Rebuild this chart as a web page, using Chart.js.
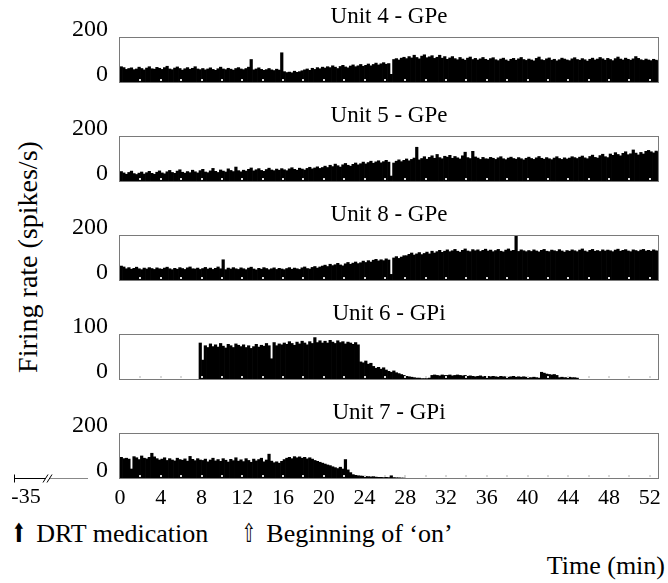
<!DOCTYPE html>
<html>
<head>
<meta charset="utf-8">
<script src="https://cdn.jsdelivr.net/npm/chart.js@4.4.1/dist/chart.umd.min.js"></script>
<style>
  html, body { margin: 0; padding: 0; background: #fff; }
  body { width: 668px; height: 583px; overflow: hidden; position: relative;
         font-family: 'Liberation Serif', 'Times New Roman', serif; color: #000; }
  canvas { position: absolute; left: 0; }
  .txt { position: absolute; white-space: nowrap; line-height: 1; }
  .arr { font-family: 'DejaVu Sans', sans-serif; display: inline-block; transform: scaleX(0.65); }
  #ylab { font-size: 28px; left: 28px; top: 257px; transform: translate(-50%, -50%) rotate(-90deg); }
  #leg1 { font-size: 26px; left: 8px; top: 520px; }
  #leg2 { font-size: 26px; left: 238px; top: 520px; }
  #xlab { font-size: 26px; right: 3px; top: 553px; }
</style>
</head>
<body>
<div id="ylab" class="txt">Firing rate (spikes/s)</div>
<div id="leg1" class="txt"><span class="arr">⬆</span> DRT medication</div>
<div id="leg2" class="txt"><span class="arr">⇧</span> Beginning of ‘on’</div>
<div id="xlab" class="txt">Time (min)</div>

<script>
// firing rate histograms, one value per 0.25 min bin (spikes/s)
const BIN_MIN = 0.25;

const unit4 = [
  68,64,56,60,63,55,58,66,60,54,62,68,59,57,65,61,        // 0-4
  56,64,70,58,55,62,67,60,53,59,64,57,61,68,58,55,        // 4-8
  60,54,58,63,56,52,59,66,58,55,61,57,53,60,64,58,        // 8-12
  55,60,66,100,54,58,63,56,52,55,60,54,51,57,53,130,      // 12-16
  46,42,44,41,48,43,46,50,54,58,52,61,56,64,59,66,        // 16-20
  62,68,64,72,66,60,69,74,67,63,71,76,68,72,78,70,        // 20-24
  74,80,72,78,84,76,81,86,79,82,34,100,104,98,106,110,    // 24-28
  104,113,107,119,109,103,115,121,108,112,117,105,110,119,106,113, // 28-32
  101,107,113,104,99,109,102,97,106,111,100,105,98,103,109,101,    // 32-36
  97,104,108,99,95,102,106,98,93,101,105,97,103,109,100,96,        // 36-40
  102,98,94,105,111,99,96,103,107,97,101,94,99,106,102,98,         // 40-44
  95,103,108,100,97,104,99,93,101,106,98,102,109,103,97,105,       // 44-48
  100,95,104,111,102,98,106,101,97,103,113,105,99,96,102,98,       // 48-52
  95,101,97,93                                                     // 52-53
];

const unit5 = [
  42,36,30,38,44,33,29,35,40,31,37,43,34,30,39,45,
  36,32,41,47,38,34,44,50,39,35,42,37,48,41,36,46,
  52,40,37,45,56,43,38,49,44,40,54,47,42,62,46,41,
  48,44,52,58,45,50,55,47,43,51,57,49,46,53,48,55,
  50,46,54,59,52,48,57,53,49,56,61,54,58,63,56,60,
  66,60,70,64,75,68,62,72,78,70,66,74,80,72,77,84,
  76,82,88,79,85,90,81,86,92,84,22,80,88,94,86,92,
  98,90,96,102,150,94,100,108,97,105,112,101,118,104,99,110,
  106,114,101,109,103,98,112,128,104,100,132,107,102,96,105,99,
  98,105,101,96,103,108,99,95,102,106,100,97,104,99,94,101,
  106,100,96,103,109,101,97,104,99,95,102,108,100,96,103,98,
  102,108,104,100,106,111,103,99,109,115,105,102,113,119,108,104,
  120,114,126,118,112,123,130,117,121,138,124,116,127,120,132,136,
  130,125,133,128
];

const unit8 = [
  62,58,50,55,48,52,57,50,46,53,49,55,51,47,54,50,
  48,53,57,50,46,52,48,55,51,47,54,58,50,49,53,47,
  51,56,49,53,47,52,58,50,90,46,53,49,55,50,47,54,
  50,46,53,57,49,45,52,48,55,51,46,50,54,47,52,49,
  46,51,55,48,53,50,47,54,58,51,49,56,60,53,58,62,
  66,60,70,64,68,74,67,63,72,78,70,75,80,73,77,84,
  78,86,80,88,92,85,90,86,94,89,25,98,104,96,102,108,
  108,114,120,111,116,122,113,118,124,116,128,120,126,132,123,128,
  134,126,130,136,128,124,132,138,129,126,135,130,134,127,132,137,
  129,133,126,131,136,128,125,133,138,129,132,197,127,134,130,126,
  131,127,134,129,125,132,136,128,126,133,130,127,135,129,124,131,
  128,134,130,126,133,138,129,125,132,136,128,131,127,134,129,133,
  130,126,133,137,128,132,135,129,126,134,131,127,133,136,129,132,
  128,134,130,127
];

// unit 6 recorded from 7.75 min to 45 min
const unit6 = [
  80,
  42,74,70,78,72,76,71,79,73,69,77,74,70,78,75,72,        // 8-12
  76,70,74,68,72,77,71,75,73,79,74,45,81,74,78,76,        // 12-16
  80,77,83,79,75,82,78,84,80,76,83,79,92,81,85,80,        // 16-20
  84,80,86,82,79,85,81,83,78,82,80,77,81,76,38,36,        // 20-24
  40,33,35,28,24,26,22,25,20,17,15,18,14,12,10,8,         // 24-28
  6,5,4,3,2,2,1,1,1,2,8,9,8,7,9,8,                        // 28-32
  8,9,7,8,9,8,7,8,6,7,6,5,6,7,5,6,                        // 32-36
  6,5,6,5,4,6,5,5,4,5,6,4,5,4,5,4,                        // 36-40
  3,3,4,3,2,15,13,11,10,9,10,8,3,4,3,3,                   // 40-44
  4,3,3,2                                                 // 44-45
];

// unit 7 recorded from 0 to 28 min
const unit7 = [
  92,86,88,84,40,95,90,82,98,88,85,92,110,94,86,80,
  84,90,78,86,80,76,88,82,79,85,75,96,83,77,86,80,
  78,84,72,80,88,76,82,74,86,79,71,83,77,90,75,81,
  73,86,78,70,84,76,82,88,72,80,106,75,68,72,66,74,
  82,88,92,86,95,90,94,88,92,85,90,84,78,74,70,66,
  62,58,55,50,46,42,48,40,82,36,24,15,12,10,9,8,
  7,6,5,6,4,3,3,2,3,2,10,2,1,1,0,0
];

const panelTitles = ['Unit 4 - GPe', 'Unit 5 - GPe', 'Unit 8 - GPe', 'Unit 6 - GPi', 'Unit 7 - GPi'];
const panelSeries = [unit4, unit5, unit8, unit6, unit7];
const seriesStart = [0, 0, 0, 7.75, 0];
const yMax = [200, 200, 200, 100, 200];
const xTickValues = [0, 4, 8, 12, 16, 20, 24, 28, 32, 36, 40, 44, 48, 52];
const xMin = -0.1, xMax = 52.9;
const brokenTickLabel = '-35';

// layout in page pixels
const panelTop = [37, 136, 235, 334, 433];
const PANEL_H = 45;
const AREA_LEFT = 119, AREA_RIGHT = 659, CANVAS_W = 778;
const SERIF = "'Liberation Serif', 'Times New Roman', serif";

// box round each panel plus the little tick marks along the base
const panelFrame = {
  id: 'panelFrame',
  afterDatasetsDraw(chart) {
    const { ctx, chartArea: a, scales: { x } } = chart;
    ctx.save();
    ctx.fillStyle = '#d8d8d8';
    for (let t = 2; t <= 52; t += 2) {
      const px = Math.round(x.getPixelForValue(t));
      ctx.fillRect(px - 1, a.bottom - 3, 2, 2);
    }
    ctx.strokeStyle = '#7a7a7a';
    ctx.lineWidth = 1;
    ctx.strokeRect(Math.round(a.left) + 0.5, Math.round(a.top) + 0.5,
                   Math.round(a.width) - 1, Math.round(a.height));
    ctx.restore();
  }
};

// the -35 stub with its break marks, left of the bottom panel
const brokenAxis = {
  id: 'brokenAxis',
  afterDraw(chart) {
    const { ctx, chartArea: a } = chart;
    const y = Math.round(a.bottom) + 0.5;
    ctx.save();
    ctx.lineWidth = 1;
    ctx.strokeStyle = '#000';
    ctx.beginPath();
    ctx.moveTo(14.5, y - 4); ctx.lineTo(14.5, y + 4);
    ctx.moveTo(14, y); ctx.lineTo(46, y);
    ctx.moveTo(43, y + 4); ctx.lineTo(48, y - 4);
    ctx.moveTo(47, y + 4); ctx.lineTo(52, y - 4);
    ctx.stroke();
    ctx.strokeStyle = '#888';
    ctx.beginPath();
    ctx.moveTo(50, y); ctx.lineTo(88, y);
    ctx.stroke();
    ctx.fillStyle = '#000';
    ctx.font = '22px ' + SERIF;
    ctx.textAlign = 'center';
    ctx.textBaseline = 'top';
    ctx.fillText(brokenTickLabel, 26, y + 8);
    ctx.restore();
  }
};

panelTitles.forEach((title, i) => {
  const last = i === panelTitles.length - 1;
  // room under the panel: tick labels on the last one, label overhang elsewhere
  const bottomRoom = last ? 40 : 28;
  const canvas = document.createElement('canvas');
  canvas.width = CANVAS_W;
  canvas.height = 40 + PANEL_H + bottomRoom;
  canvas.style.top = (panelTop[i] - 40) + 'px';
  document.body.appendChild(canvas);

  const pts = panelSeries[i].map((v, k) => ({ x: seriesStart[i] + (k + 0.5) * BIN_MIN, y: v }));

  new Chart(canvas.getContext('2d'), {
    type: 'bar',
    data: {
      datasets: [{
        data: pts,
        backgroundColor: '#000',
        borderWidth: 0,
        barPercentage: 1,
        categoryPercentage: 1
      }]
    },
    options: {
      responsive: false,
      animation: false,
      events: [],
      layout: { padding: { top: 8, bottom: last ? 0 : bottomRoom, left: 0, right: CANVAS_W - AREA_RIGHT } },
      scales: {
        x: {
          type: 'linear',
          display: last,
          min: xMin,
          max: xMax,
          offset: false,
          grid: { display: false, drawTicks: false },
          border: { display: false },
          afterBuildTicks: axis => { axis.ticks = xTickValues.map(v => ({ value: v })); },
          afterFit: axis => { if (last) axis.height = bottomRoom; },
          ticks: {
            autoSkip: false,
            maxRotation: 0,
            padding: 7,
            color: '#000',
            font: { family: SERIF, size: 22 }
          }
        },
        y: {
          min: 0,
          max: yMax[i],
          grid: { display: false, drawTicks: false },
          border: { display: false },
          afterBuildTicks: axis => { axis.ticks = [{ value: 0 }, { value: yMax[i] }]; },
          afterFit: axis => { axis.width = AREA_LEFT; },
          ticks: {
            padding: 11,
            labelOffset: -7,
            color: '#000',
            font: { family: SERIF, size: 24 }
          }
        }
      },
      plugins: {
        legend: { display: false },
        tooltip: { enabled: false },
        title: {
          display: true,
          fullSize: false,
          text: title,
          color: '#000',
          font: { family: SERIF, size: 23, weight: 'normal', lineHeight: 1 },
          padding: { top: 0, bottom: 9 }
        }
      }
    },
    plugins: last ? [panelFrame, brokenAxis] : [panelFrame]
  });
});
</script>
</body>
</html>
